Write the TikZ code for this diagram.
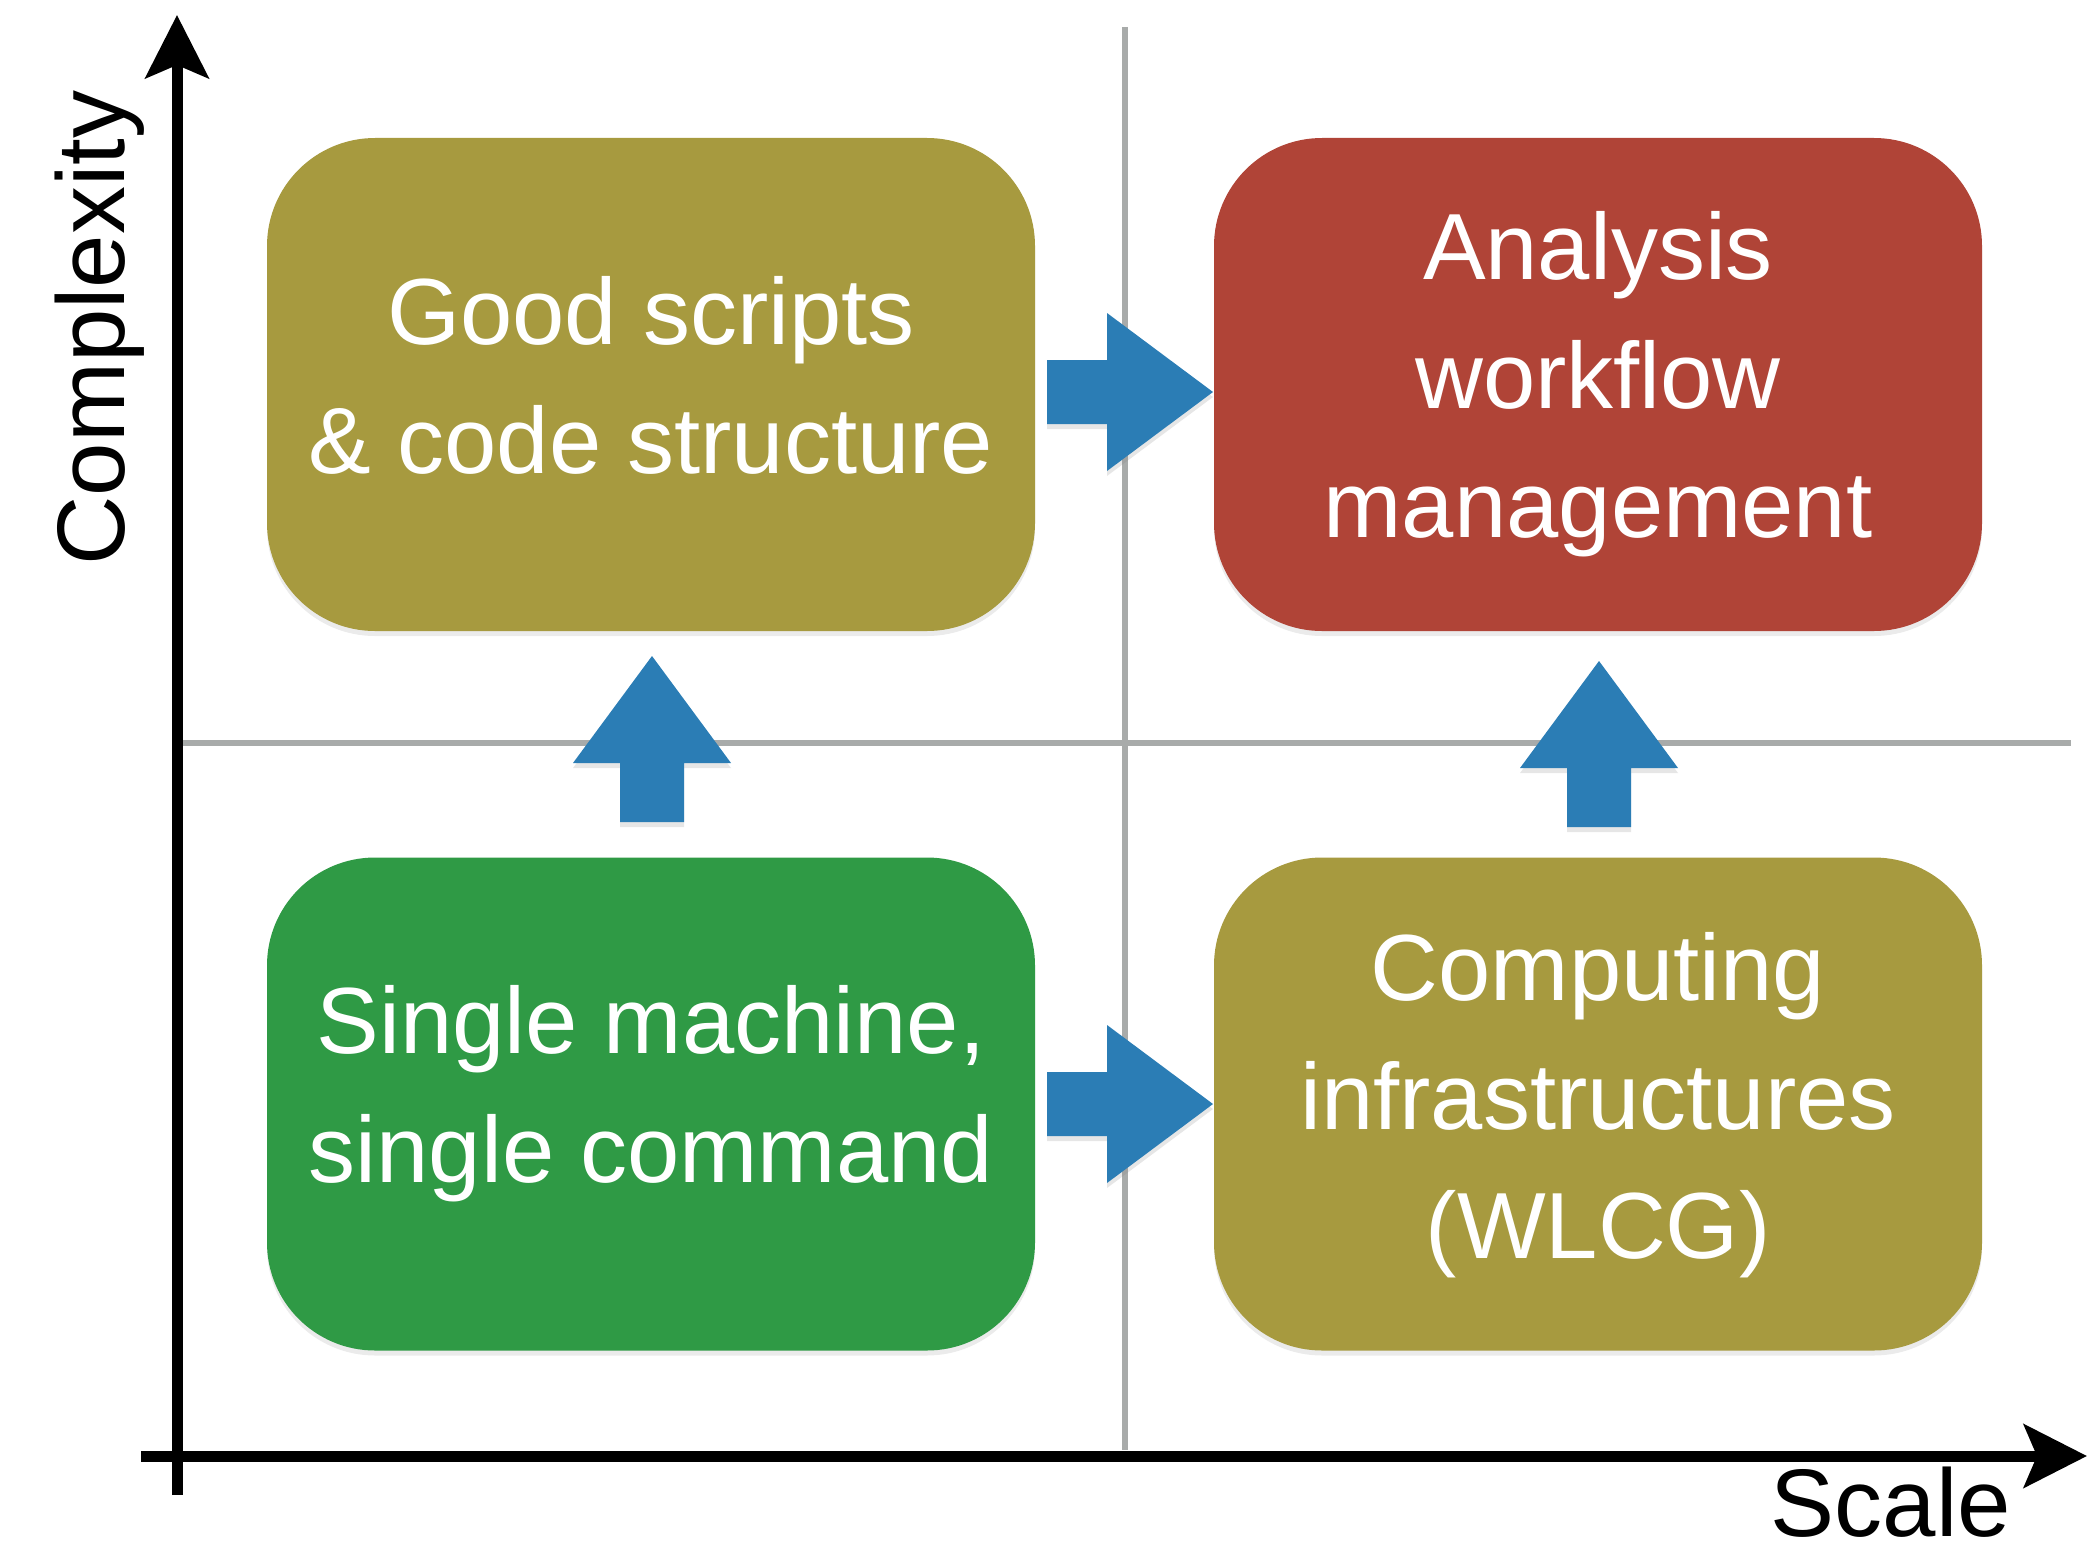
\documentclass[tikz,border=0pt]{standalone}
\usepackage{fontspec}
\setmainfont{Liberation Sans}
\usetikzlibrary{arrows.meta,shadows}
\definecolor{olive}{RGB}{167,154,63}
\definecolor{brick}{RGB}{176,68,55}
\definecolor{leaf}{RGB}{47,154,69}
\definecolor{steel}{RGB}{43,125,181}
\definecolor{gridgrey}{RGB}{168,171,170}
\tikzset{
  card/.style={rounded corners=108pt, minimum width=768pt, minimum height=493pt,
    inner sep=0pt, drop shadow={shadow xshift=0pt, shadow yshift=-5pt, opacity=0.16}},
  cardtext/.style={text=white, align=center, font=\fontsize{94}{129}\selectfont},
  blockarrow/.style={fill=steel, drop shadow={shadow xshift=0pt, shadow yshift=-5pt, opacity=0.2}},
  axisline/.style={line width=11pt, -{Stealth[length=63pt,width=63pt,inset=13pt]}},
  gridline/.style={draw=gridgrey, line width=6pt},
  axislabel/.style={font=\fontsize{96}{96}\selectfont, inner sep=0pt}
}
\newcommand{\rightblock}[2]{% tip x, tip y
  \fill[blockarrow] (#1,#2) -- (#1-106,#2-79) -- (#1-106,#2-32) -- (#1-166,#2-32)
     -- (#1-166,#2+32) -- (#1-106,#2+32) -- (#1-106,#2+79) -- cycle;}
\newcommand{\upblock}[2]{% tip x, tip y
  \fill[blockarrow] (#1,#2) -- (#1+79,#2+107) -- (#1+32,#2+107) -- (#1+32,#2+166)
     -- (#1-32,#2+166) -- (#1-32,#2+107) -- (#1-79,#2+107) -- cycle;}
\begin{document}
\begin{tikzpicture}[x=1pt,y=-1pt]
\useasboundingbox (0,0) rectangle (2095,1560);
% grid
\coordinate (gvt) at (1125,27);
\coordinate (gvb) at (1125,1450);
\coordinate (ghl) at (177,743);
\coordinate (ghr) at (2071,743);
\draw[gridline] (gvt) -- (gvb);
\draw[gridline] (ghl) -- (ghr);
% axes
\coordinate (yfoot) at (177,1495);
\coordinate (ytip) at (177,15);
\coordinate (xfoot) at (141,1456);
\coordinate (xtip) at (2087,1456);
\draw[axisline] (yfoot) -- (ytip);
\draw[axisline] (xfoot) -- (xtip);
\node[axislabel, rotate=90, anchor=base] (ylab) at (124,328) {Complexity};
\node[axislabel, anchor=base] (xlab) at (1891,1536) {Scale};
% boxes
\node[card, fill=olive] (tl) at (651,384.5) {};
\node[card, fill=brick] (tr) at (1598,384.5) {};
\node[card, fill=leaf] (bl) at (651,1104) {};
\node[card, fill=olive] (br) at (1598,1104) {};
\node[cardtext] (tltext) at (651,375) {Good scripts\\\& code structure};
\node[cardtext] (trtext) at (1598,384) {Analysis\\workflow\\management};
\node[cardtext] (bltext) at (651,1094) {Single machine,\\single command};
\node[cardtext] (brtext) at (1598,1105) {Computing\\infrastructures\\(WLCG)};
% block arrows
\upblock{652}{656}
\upblock{1599}{661}
\rightblock{1213}{392}
\rightblock{1213}{1104}
\end{tikzpicture}
\end{document}
